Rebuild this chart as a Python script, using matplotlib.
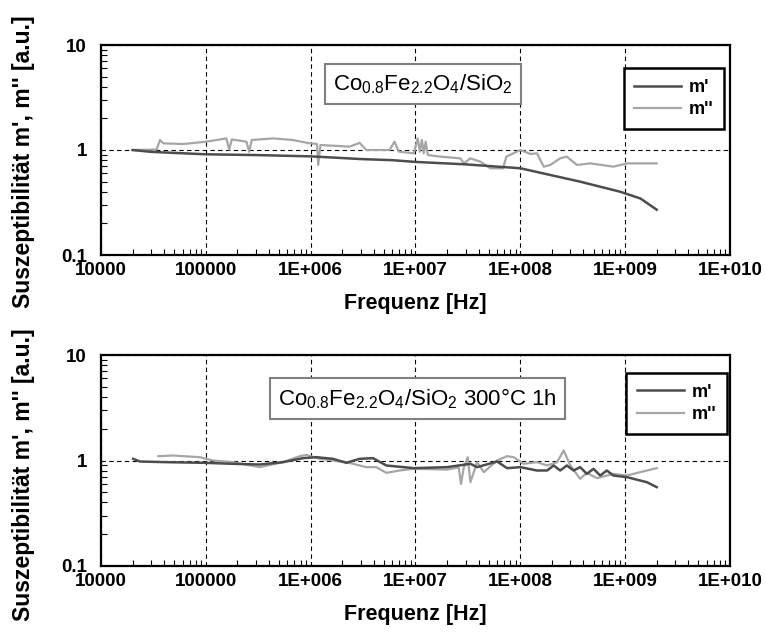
import matplotlib
matplotlib.use("Agg")
import matplotlib.pyplot as plt
from matplotlib.ticker import LogLocator, FixedLocator, FixedFormatter, NullFormatter

plt.rcParams["font.family"] = ["Liberation Sans", "DejaVu Sans"]
plt.rcParams["mathtext.fontset"] = "custom"
plt.rcParams["mathtext.rm"] = "Liberation Sans"
plt.rcParams["mathtext.it"] = "Liberation Sans"

# ---- data ----------------------------------------------------------------
# upper panel: Co0.8Fe2.2O4/SiO2
top_m1_f = [2.0e4, 3.0e4, 1.0e5, 3.0e5, 1.0e6, 3.0e6, 6.0e6, 1.0e7, 3.0e7,
            1.0e8, 3.7e8, 9.0e8, 1.4e9, 2.0e9]
top_m1 = [1.0, 0.96, 0.91, 0.895, 0.87, 0.82, 0.80, 0.77, 0.73,
          0.67, 0.50, 0.40, 0.345, 0.27]

top_m2_f = [2.03e4, 3.39e4, 3.65e4, 3.93e4, 6.08e4, 1.01e5, 1.57e5, 1.67e5,
            1.77e5, 2.44e5, 2.59e5, 2.74e5, 4.38e5, 6.79e5, 9.78e5, 1.15e6,
            1.18e6, 1.24e6, 2.35e6, 2.93e6, 3.39e6, 5.65e6, 6.3e6, 6.93e6,
            9.64e6, 1.05e7, 1.10e7, 1.15e7, 1.20e7, 1.25e7, 1.31e7, 1.73e7,
            2.68e7, 2.89e7, 3.34e7, 4.16e7, 5.18e7, 6.84e7, 7.36e7, 1.0e8,
            1.25e8, 1.44e8, 1.67e8, 1.93e8, 2.4e8, 2.78e8, 3.47e8, 4.64e8,
            7.74e8, 1.04e9, 2.0e9]
top_m2 = [1.0, 1.01, 1.245, 1.157, 1.14, 1.20, 1.29, 1.01,
          1.26, 1.20, 0.96, 1.245, 1.29, 1.245, 1.157, 1.14,
          0.72, 1.116, 1.076, 1.17, 1.0, 1.0, 1.2, 0.964,
          0.93, 1.29, 0.964, 1.245, 0.93, 1.2, 0.896, 0.864,
          0.833, 0.746, 0.833, 0.774, 0.669, 0.669, 0.864, 1.0,
          0.916, 0.93, 0.694, 0.72, 0.833, 0.864, 0.72, 0.746,
          0.694, 0.746, 0.746]

# lower panel: Co0.8Fe2.2O4/SiO2 300°C 1h
bot_m1_f = [2.03e4, 2.35e4, 4.22e4, 1.01e5, 1.81e5, 3.27e5, 5.44e5, 8.45e5,
            1.13e6, 1.63e6, 2.19e6, 2.93e6, 3.93e6, 5.27e6, 9.64e6, 2.0e7,
            3.34e7, 3.87e7, 6.0e7, 7.47e7, 1.0e8, 1.44e8, 1.8e8, 2.08e8,
            2.4e8, 2.78e8, 3.22e8, 3.72e8, 4.31e8, 4.99e8, 5.78e8, 6.68e8,
            7.74e8, 1.04e9, 1.61e9, 2.0e9]
bot_m1 = [1.037, 0.978, 0.964, 0.95, 0.93, 0.916, 0.964, 1.052,
          1.075, 1.037, 0.95, 1.037, 1.052, 0.897, 0.846, 0.865,
          0.93, 0.865, 0.978, 0.846, 0.865, 0.804, 0.804, 0.897,
          0.804, 0.897, 0.804, 0.865, 0.747, 0.834, 0.72, 0.804,
          0.72, 0.695, 0.623, 0.559]

bot_m2_f = [3.52e4, 4.88e4, 8.76e4, 1.17e5, 1.81e5, 3.27e5, 5.44e5, 7.87e5,
            9.1e5, 1.22e6, 2.19e6, 3.39e6, 4.23e6, 5.27e6, 7.06e6, 9.64e6,
            2.0e7, 2.58e7, 2.72e7, 2.89e7, 3.15e7, 3.34e7, 3.87e7, 4.48e7,
            6.0e7, 7.47e7, 8.65e7, 1.07e8, 1.44e8, 1.8e8, 2.24e8, 2.59e8,
            3.0e8, 3.72e8, 4.31e8, 5.37e8, 7.74e8, 1.04e9, 1.39e9, 2.0e9]
bot_m2 = [1.099, 1.115, 1.075, 1.0, 0.964, 0.865, 0.964, 1.099,
          1.13, 1.037, 0.964, 0.865, 0.865, 0.764, 0.804, 0.834,
          0.82, 0.86, 0.60, 0.86, 1.075, 0.623, 0.964, 0.775,
          1.0, 1.099, 1.075, 0.93, 0.964, 0.897, 0.964, 1.244,
          0.897, 0.67, 0.764, 0.68, 0.747, 0.72, 0.775, 0.846]

x_ticks = [1e4, 1e5, 1e6, 1e7, 1e8, 1e9, 1e10]
x_labels = ["10000", "100000", "1E+006", "1E+007", "1E+008", "1E+009", "1E+010"]
y_ticks = [0.1, 1, 10]
y_labels = ["0.1", "1", "10"]

titles = [r"Co$_{0.8}$Fe$_{2.2}$O$_4$/SiO$_2$",
          r"Co$_{0.8}$Fe$_{2.2}$O$_4$/SiO$_2$ 300°C 1h"]

DARK = "#4d4d4d"
LIGHT = "#a6a6a6"

W, H = 766, 634
fig = plt.figure(figsize=(W / 100, H / 100), dpi=100)


def px_axes(left, top, right, bottom):
    return fig.add_axes([left / W, 1 - bottom / H, (right - left) / W, (bottom - top) / H])


def style(ax):
    ax.set_xscale("log")
    ax.set_yscale("log")
    ax.set_xlim(1e4, 1e10)
    ax.set_ylim(0.1, 10)
    ax.xaxis.set_major_locator(FixedLocator(x_ticks))
    ax.xaxis.set_major_formatter(FixedFormatter(x_labels))
    ax.yaxis.set_major_locator(FixedLocator(y_ticks))
    ax.yaxis.set_major_formatter(FixedFormatter(y_labels))
    ax.xaxis.set_minor_locator(LogLocator(base=10, subs=range(2, 10), numticks=20))
    ax.yaxis.set_minor_locator(LogLocator(base=10, subs=range(2, 10), numticks=20))
    ax.xaxis.set_minor_formatter(NullFormatter())
    ax.yaxis.set_minor_formatter(NullFormatter())
    ax.tick_params(which="major", length=0, labelsize=13.5)
    ax.tick_params(axis="x", which="major", pad=5)
    ax.tick_params(axis="y", which="major", pad=10)
    ax.tick_params(which="minor", direction="in", length=4, width=0.8)
    for lab in ax.get_xticklabels() + ax.get_yticklabels():
        lab.set_fontweight("bold")
    for sp in ax.spines.values():
        sp.set_linewidth(1.6)
    ax.grid(True, which="major", color="black", linestyle=(0, (4, 3)), linewidth=0.8)
    ax.set_xlabel("Frequenz [Hz]", fontsize=15.5, fontweight="bold", labelpad=10)


panels = [
    (px_axes(101, 45, 730, 255), top_m1_f, top_m1, top_m2_f, top_m2, titles[0],
     (0.512, 0.814), (0.9905, 0.89)),
    (px_axes(101, 355, 730, 566), bot_m1_f, bot_m1, bot_m2_f, bot_m2, titles[1],
     (0.503, 0.794), (0.995, 0.915)),
]

for ax, f1, v1, f2, v2, title, tpos, lpos in panels:
    style(ax)
    ax.plot(f2, v2, color=LIGHT, lw=1.6, label="m''")
    ax.plot(f1, v1, color=DARK, lw=1.8, label="m'")
    ax.text(*tpos, title, transform=ax.transAxes, ha="center", va="center", fontsize=16,
            bbox=dict(boxstyle="square,pad=0.38", fc="white", ec="#808080", lw=1.5))
    handles, labels = ax.get_legend_handles_labels()
    leg = ax.legend(handles[::-1], labels[::-1], loc="upper right", bbox_to_anchor=lpos,
                    frameon=True, fancybox=False, framealpha=1, edgecolor="black",
                    prop={"weight": "bold", "size": 13}, handlelength=2.6,
                    handletextpad=0.4, borderpad=0.6, labelspacing=0.3,
                    borderaxespad=0)
    leg.get_frame().set_linewidth(1.8)

for yc in (162, 475):
    fig.text(24 / W, 1 - yc / H, "Suszeptibilität m', m'' [a.u.]", rotation=90,
             ha="center", va="center", fontsize=16.5, fontweight="bold")

fig.savefig("out.png", dpi=100)
